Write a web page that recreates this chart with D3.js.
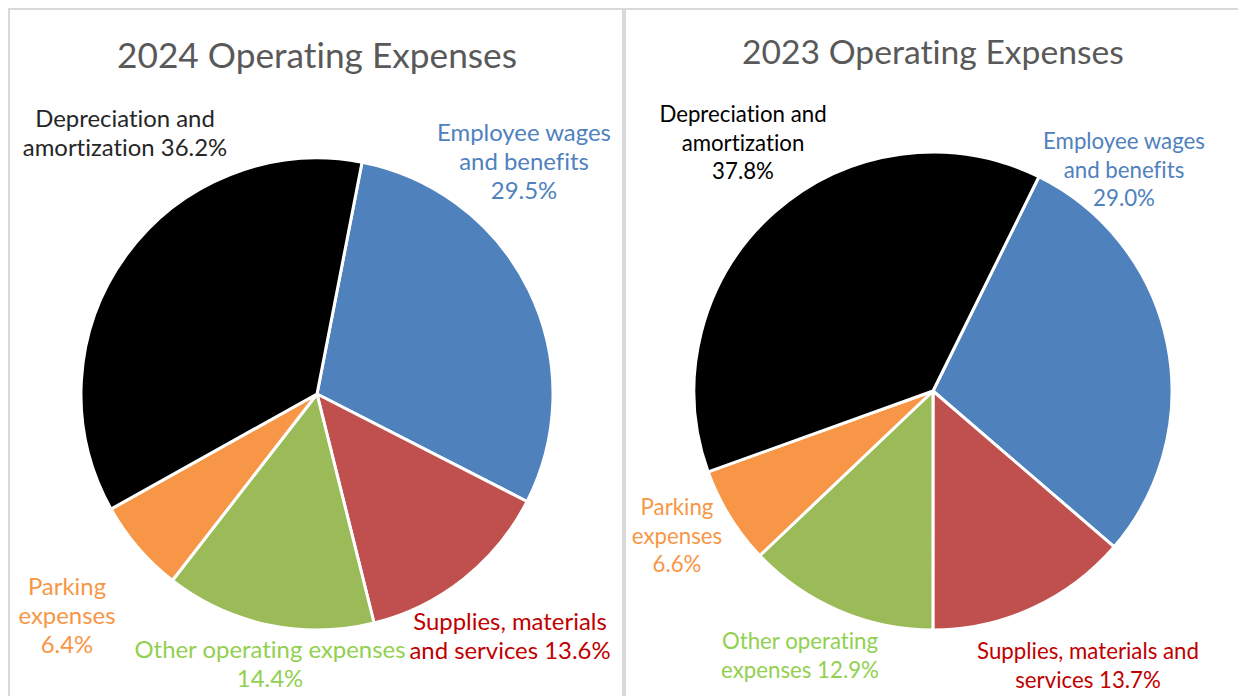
<!DOCTYPE html>
<html><head><meta charset="utf-8">
<script src="https://cdn.jsdelivr.net/npm/d3@7"></script>
<style>html,body{margin:0;padding:0;background:#fff;overflow:hidden} text{font-variant-ligatures:none;font-feature-settings:"liga" 0,"clig" 0}</style>
</head><body>
<svg id="chart" width="1238" height="696"></svg>
<script>
// ---- data ----
const categories = ["Employee wages and benefits", "Supplies, materials and services", "Other operating expenses", "Parking expenses", "Depreciation and amortization"];
const values2024 = [29.5, 13.6, 14.4, 6.4, 36.2];
const values2023 = [29.0, 13.7, 12.9, 6.6, 37.8];
const titles = ["2024 Operating Expenses", "2023 Operating Expenses"];
const labels2024 = [["Employee wages", "and benefits", "29.5%"], ["Supplies, materials", "and services 13.6%"], ["Other operating expenses", "14.4%"], ["Parking", "expenses", "6.4%"], ["Depreciation and", "amortization 36.2%"]];
const labels2023 = [["Employee wages", "and benefits", "29.0%"], ["Supplies, materials and", "services 13.7%"], ["Other operating", "expenses 12.9%"], ["Parking", "expenses", "6.6%"], ["Depreciation and", "amortization", "37.8%"]];

// ---- styles / layout ----
const sliceColors = ["#4f81bd", "#c0504d", "#9bbb59", "#f79646", "#000000"];
const FONT = "Lato, 'Open Sans', sans-serif";
const panels = [
  { values: values2024, labels: labels2024, title: titles[0],
    border: "M9,700 V9 H623 V700",
    cx: 317, cy: 394, r: 236, startDeg: 11,
    titleY: 68, titleW: 400, titleColor: "#595959",
    labelRefW: 174, lineH: 29,
    textColors: ["#4f81bd", "#c00000", "#92d050", "#f79646", "#262626"],
    labelPos: [[524, 141], [510, 630], [270, 658], [67, 595], [125, 127]] },
  { values: values2023, labels: labels2023, title: titles[1],
    border: "M625,700 V9 H1240",
    cx: 933, cy: 391, r: 239, startDeg: 26.3,
    titleY: 64, titleW: 382, titleColor: "#595959",
    labelRefW: 162, lineH: 28.5,
    textColors: ["#4f81bd", "#c00000", "#92d050", "#f79646", "#000000"],
    labelPos: [[1124, 149], [1088, 659], [800, 649], [677, 515], [743, 122]] }
];

const svg = d3.select("#chart");

function measure(text, size) {
  const t = svg.append("text").attr("font-family", FONT).attr("font-size", size).text(text);
  const w = t.node().getComputedTextLength();
  t.remove();
  return w;
}

panels.forEach(p => {
  svg.append("path").attr("d", p.border).attr("fill", "none")
    .attr("stroke", "#d9d9d9").attr("stroke-width", 2);

  const g = svg.append("g").attr("transform", `translate(${p.cx},${p.cy})`);
  const a0 = p.startDeg * Math.PI / 180;
  const pie = d3.pie().sort(null).value(d => d).startAngle(a0).endAngle(a0 + 2 * Math.PI);
  const arc = d3.arc().innerRadius(0).outerRadius(p.r);
  g.selectAll("path.slice").data(pie(p.values)).join("path")
    .attr("class", "slice")
    .attr("d", arc)
    .attr("fill", (d, i) => sliceColors[i])
    .attr("stroke", "#ffffff").attr("stroke-width", 3).attr("stroke-linejoin", "round");

  // title
  const tSize = 100 * p.titleW / measure(p.title, 100);
  svg.append("text").attr("x", p.cx).attr("y", p.titleY)
    .attr("text-anchor", "middle").attr("font-family", FONT)
    .attr("font-size", tSize).attr("fill", p.titleColor).text(p.title);

  // labels
  const lSize = 100 * p.labelRefW / measure("Employee wages", 100);
  p.labels.forEach((lines, i) => {
    const [x, y] = p.labelPos[i];
    const t = svg.append("text").attr("text-anchor", "middle")
      .attr("font-family", FONT).attr("font-size", lSize)
      .attr("fill", p.textColors[i]);
    lines.forEach((ln, j) => {
      t.append("tspan").attr("x", x).attr("y", y + j * p.lineH).text(ln);
    });
  });
});
</script>
</body></html>
